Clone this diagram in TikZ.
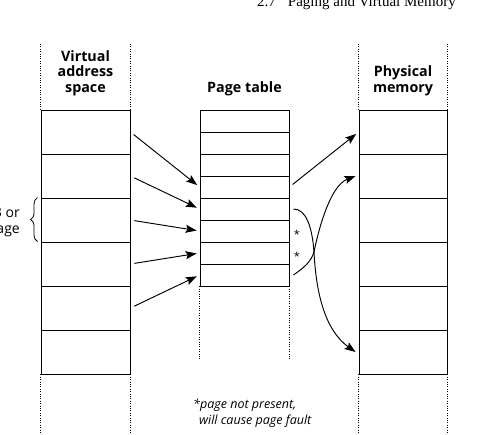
\documentclass[tikz,border=0pt]{standalone}
\usepackage{fontspec}
\setmainfont{Liberation Serif}
\newfontfamily\osans{Open Sans}
\usetikzlibrary{arrows.meta,decorations.pathreplacing,calc}
\begin{document}
\begin{tikzpicture}[x=1pt,y=-1pt,
  box/.style={draw, line width=0.9pt, inner sep=0pt},
  vrow/.style={box, minimum width=89pt, minimum height=44pt},
  prow/.style={box, minimum width=89pt, minimum height=22pt},
  mrow/.style={box, minimum width=88pt, minimum height=44pt},
  dots/.style={line width=0.8pt, dash pattern=on 0.8pt off 1.6pt},
  arr/.style={line width=0.95pt, -{Stealth[length=11pt,width=8pt,inset=2pt]}},
  head/.style={font=\osans\bfseries\fontsize{14.3}{15.5}\selectfont, align=center, inner sep=0pt},
  lbl/.style={font=\osans\fontsize{14}{15.5}\selectfont, inner sep=0pt},
  note/.style={font=\osans\itshape\fontsize{12.5}{16}\selectfont, inner sep=0pt},
  star/.style={font=\osans\fontsize{11}{11}\selectfont, inner sep=0pt}
]
\useasboundingbox (0,0) rectangle (478,434);

% header
\node[anchor=base east, font=\fontsize{15}{15}\selectfont, inner sep=0pt] (hdr) at (456,6) {2.7\hspace{0.8em}Paging and Virtual Memory};

% column headings
\node[head, anchor=base] (hv) at (85.5,92) {Virtual\\address\\space};
\node[head, anchor=base] (hp) at (244.5,92) {Page table};
\node[head, anchor=base] (hm) at (403,92) {Physical\\memory};

% virtual address space rows
\foreach \i in {1,...,6} \node[vrow] (v\i) at (85.5,{110+44*(\i-0.5)}) {};
% page table rows
\foreach \i in {1,...,8} \node[prow] (p\i) at (244.5,{110+22*(\i-0.5)}) {};
% physical memory rows
\foreach \i in {1,...,6} \node[mrow] (m\i) at (403,{110+44*(\i-0.5)}) {};

% dotted column guides
\draw[dots] (v1.north west) -- +(0,-67);
\draw[dots] (v1.north east) -- +(0,-67);
\draw[dots] (v6.south west) -- +(0,60);
\draw[dots] (v6.south east) -- +(0,60);
\draw[dots] (p8.south west) -- +(0,73);
\draw[dots] (p8.south east) -- +(0,73);
\draw[dots] (m1.north west) -- +(0,-67);
\draw[dots] (m1.north east) -- +(0,-67);
\draw[dots] (m6.south west) -- +(0,60);
\draw[dots] (m6.south east) -- +(0,60);

% brace and size label
\draw[line width=0.8pt, decorate, decoration={brace, amplitude=7pt}] ($(v3.north west)+(-3,44)$) -- ($(v3.north west)+(-3,0)$);
\node[lbl, anchor=base east] (sz1) at (20,217) {4 KB or};
\node[lbl, anchor=base east] (sz2) at (20,233) {1 page};

% virtual -> page table
\draw[arr, shorten <=4pt, shorten >=3pt] (v1.east) -- (p4.west);
\draw[arr, shorten <=4pt, shorten >=3pt] (v2.east) -- (p5.west);
\draw[arr, shorten <=4pt, shorten >=3pt] (v3.east) -- (p6.west);
\draw[arr, shorten <=4pt, shorten >=3pt] (v4.east) -- (p7.west);
\draw[arr, shorten <=4pt, shorten >=3pt] (v5.east) -- (p8.west);

% page table -> physical memory
\draw[arr, shorten <=4pt, shorten >=3pt] (p4.east) -- (m1.west);
\coordinate (x1) at (314,252);
\draw[arr] ($(p5.east)+(4,0)$) .. controls +(12,0) and +(-2,-27) .. (x1)
  .. controls +(2,40) and +(-31,-22) .. ($(m6.west)+(-3,0)$);
\draw[arr] ($(p8.east)+(4,0)$) .. controls +(10,-7) and +(-3,10) .. (x1)
  .. controls +(4,-20) and +(-26,10) .. ($(m2.west)+(-3,0)$);

% stars
\node[star, anchor=base] (s1) at (297,238.5) {*};
\node[star, anchor=base] (s2) at (297,260.5) {*};

% footnote
\node[note, anchor=base west] (n1) at (193,408.5) {*page not present,};
\node[note, anchor=base west] (n2) at (199,424.3) {will cause page fault};
\end{tikzpicture}
\end{document}
